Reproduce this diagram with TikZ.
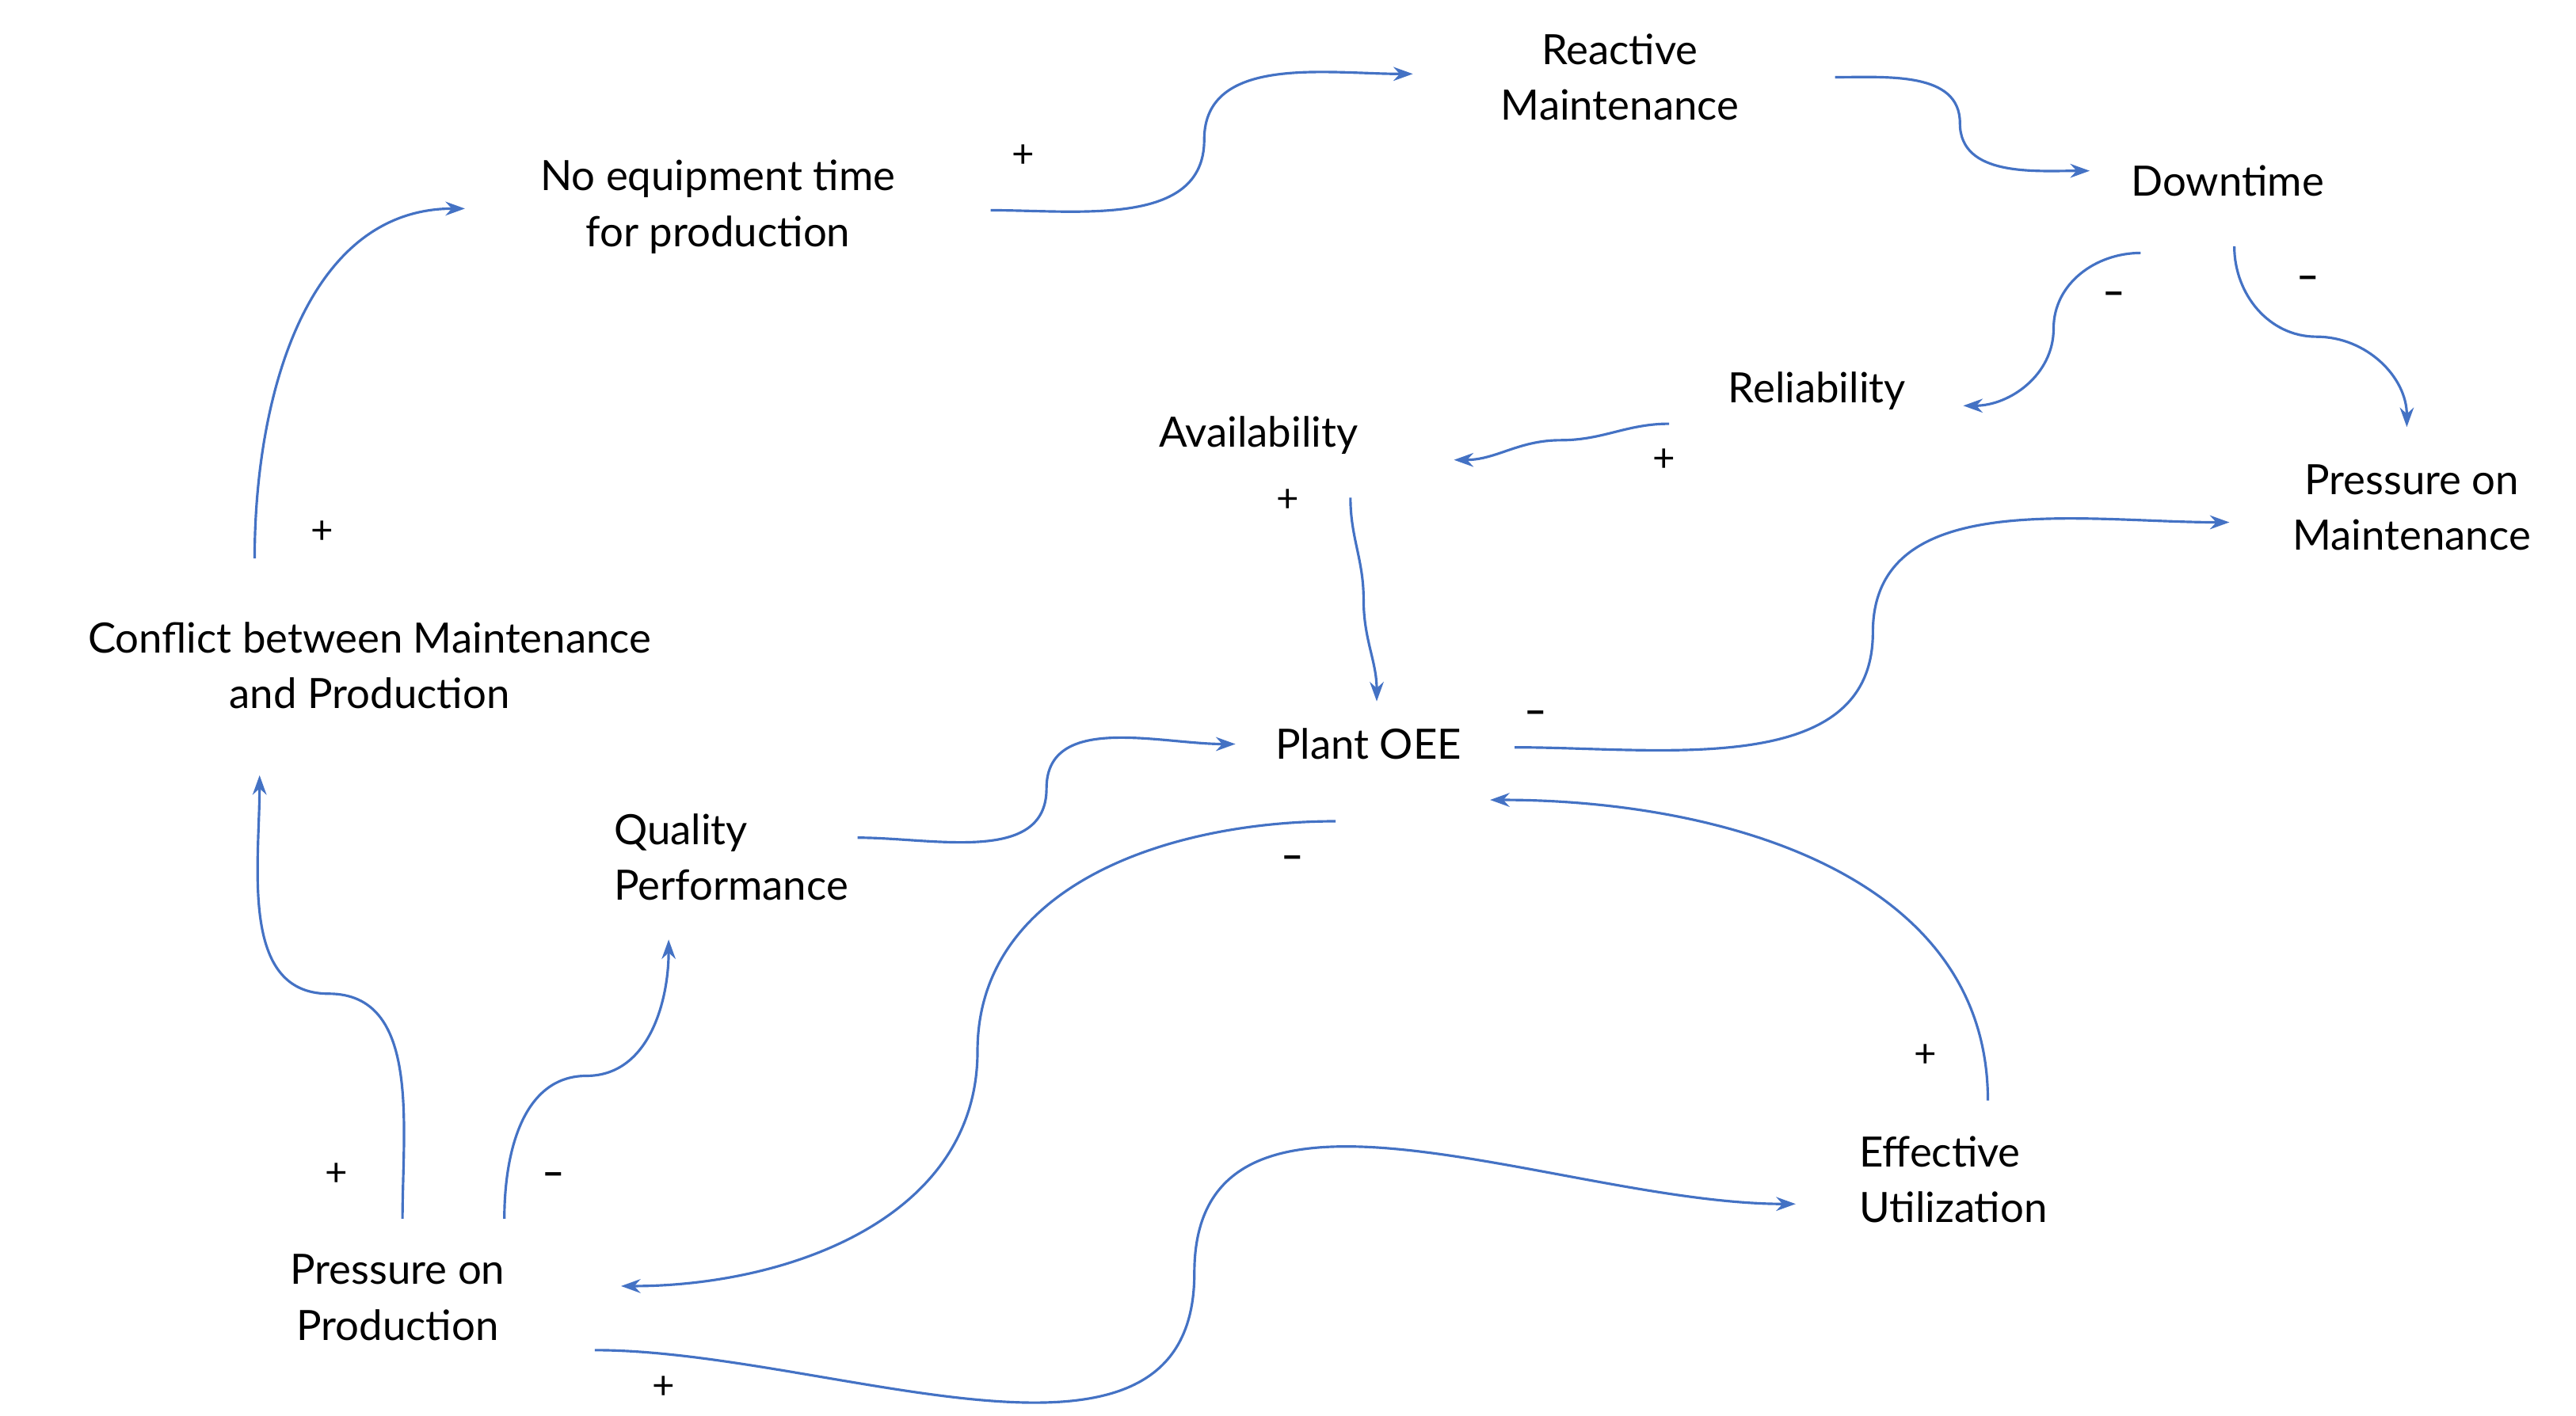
\documentclass[tikz,border=0pt]{standalone}
\usepackage{fontspec}
\setmainfont{Lato}
\usetikzlibrary{arrows.meta}
\begin{document}
\begin{tikzpicture}[x=0.02074cm,y=-0.02074cm,
  lbl/.style={font=\fontsize{15}{20}\selectfont,align=center,inner sep=0},
  sg/.style={font=\fontsize{14}{16}\selectfont,inner sep=0},
  ln/.style={draw={rgb,255:red,68;green,114;blue,196},line width=0.9pt,-{Stealth[length=7pt,width=5pt]}}]
\useasboundingbox (0,0) rectangle (1568,862);
\node[lbl] (rm) at (986,47) {Reactive\\Maintenance};
\node[lbl] (dt) at (1356,110) {Downtime};
\node[lbl] (ne) at (437,126) {No equipment time\\for production};
\node[lbl] (rel) at (1106,238) {Reliability};
\node[lbl] (av) at (766,265) {Availability};
\node[lbl] (pm) at (1468,309) {Pressure on\\Maintenance};
\node[lbl] (cf) at (225,405) {Conflict between Maintenance\\and Production};
\node[lbl] (oee) at (833,453) {Plant OEE};
\node[lbl,align=left] (qp) at (445,522) {Quality\\Performance};
\node[lbl,align=left] (eu) at (1189,718) {Effective\\Utilization};
\node[lbl] (pp) at (242,790) {Pressure on\\Production};
% coordinates
\coordinate (a1) at (603,128); \coordinate (m1) at (733,85); \coordinate (b1) at (860,45);
\coordinate (a2) at (1117,47); \coordinate (m2) at (1193,75); \coordinate (b2) at (1272,104);
\coordinate (a3) at (1303,154); \coordinate (m3) at (1250,200); \coordinate (b3) at (1195,247);
\coordinate (a4) at (1360,150); \coordinate (m4) at (1410,205); \coordinate (b4) at (1465,260);
\coordinate (a5) at (1016,258); \coordinate (m5) at (950,268); \coordinate (b5) at (885,280);
\coordinate (a6) at (822,303); \coordinate (m6) at (830,365); \coordinate (b6) at (838,427);
\coordinate (a7) at (922,455); \coordinate (m7) at (1140,385); \coordinate (b7) at (1357,318);
\coordinate (a8) at (522,510); \coordinate (m8) at (637,480); \coordinate (b8) at (752,453);
\coordinate (a9) at (813,500); \coordinate (m9) at (595,640); \coordinate (b9) at (378,783);
\coordinate (a10) at (1210,670); \coordinate (b10) at (907,487);
\coordinate (a11) at (362,822); \coordinate (m11) at (727,775); \coordinate (b11) at (1093,733);
\coordinate (a12) at (245,742); \coordinate (m12) at (200,605); \coordinate (b12) at (158,472);
\coordinate (a13) at (307,742); \coordinate (m13) at (357,655); \coordinate (b13) at (407,572);
\coordinate (a14) at (155,340); \coordinate (b14) at (283,127);
\draw[ln] (a1) to[out=0,in=-90] (m1) to[out=90,in=180] (b1);
\draw[ln] (a2) to[out=0,in=90] (m2) to[out=-90,in=180] (b2);
\draw[ln] (a3) to[out=180,in=90] (m3) to[out=-90,in=0] (b3);
\draw[ln] (a4) to[out=-90,in=180] (m4) to[out=0,in=90] (b4);
\draw[ln] (a5) to[out=180,in=0] (m5) to[out=180,in=0] (b5);
\draw[ln] (a6) to[out=-90,in=90] (m6) to[out=-90,in=90] (b6);
\draw[ln] (a7) to[out=0,in=-90] (m7) to[out=90,in=180] (b7);
\draw[ln] (a8) to[out=0,in=-90] (m8) to[out=90,in=180] (b8);
\draw[ln] (a9) to[out=180,in=90] (m9) to[out=-90,in=0] (b9);
\draw[ln] (a10) to[out=90,in=0] (b10);
\draw[ln] (a11) to[out=0,in=-90] (m11) to[out=90,in=180] (b11);
\draw[ln] (a12) to[out=90,in=0] (m12) to[out=180,in=-90] (b12);
\draw[ln] (a13) to[out=90,in=180] (m13) to[out=0,in=-90] (b13);
\draw[ln] (a14) to[out=90,in=180] (b14);
% signs
\node[sg] (s1) at (623,95) {+};
\node[sg] (s3) at (1287,182) {\textbf{–}};
\node[sg] (s4) at (1405,172) {\textbf{–}};
\node[sg] (s5) at (1013,280) {+};
\node[sg] (s6) at (784,305) {+};
\node[sg] (s7) at (935,437) {\textbf{–}};
\node[sg] (s9) at (787,525) {\textbf{–}};
\node[sg] (s10) at (1172,643) {+};
\node[sg] (s11) at (404,845) {+};
\node[sg] (s12) at (205,715) {+};
\node[sg] (s13) at (337,718) {\textbf{–}};
\node[sg] (s14) at (196,324) {+};
\end{tikzpicture}
\end{document}
